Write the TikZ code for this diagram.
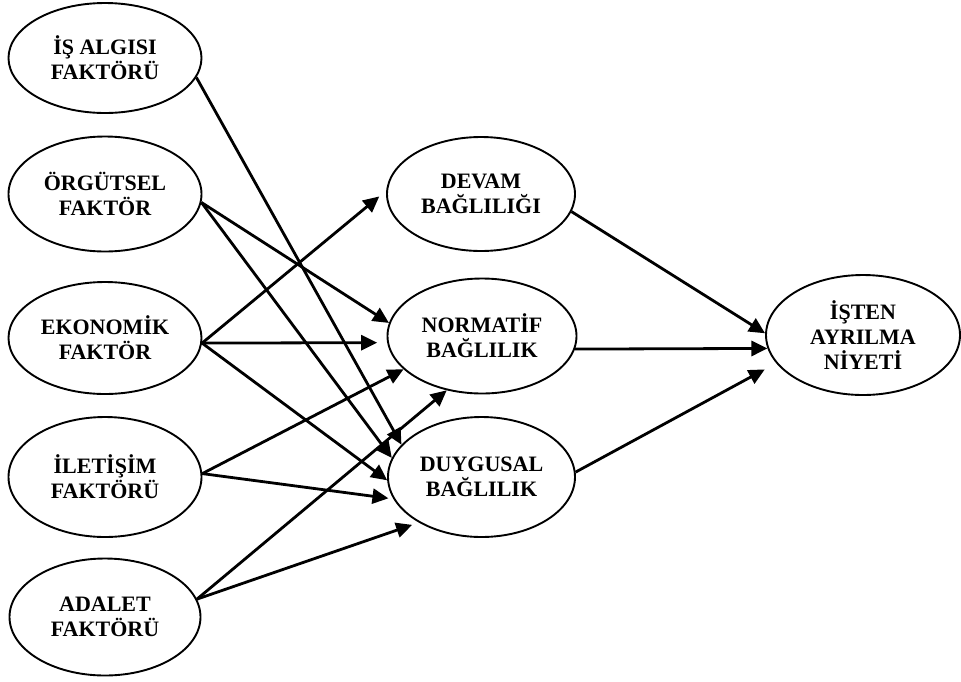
\documentclass[tikz,border=0pt]{standalone}
\usepackage{fontspec}
\setmainfont{Liberation Serif}
\usetikzlibrary{shapes.geometric,arrows.meta}
\begin{document}
\begin{tikzpicture}[x=1pt,y=-1pt,
  factor/.style={ellipse,draw,line width=1.9pt,inner sep=0pt,align=center,
    font=\fontsize{22}{25}\selectfont\bfseries},
  link/.style={line width=2.8pt,-{Triangle[length=16pt,width=15pt]}}]
\useasboundingbox (0,0) rectangle (961,681);

% source factors
\node[factor,minimum width=193pt,minimum height=110pt] (isalgi) at (105,58) {İŞ ALGISI\\FAKTÖRÜ};
\node[factor,minimum width=193pt,minimum height=115pt] (orgut) at (105,194) {ÖRGÜTSEL\\FAKTÖR};
\node[factor,minimum width=193pt,minimum height=112pt] (ekon) at (105,338) {EKONOMİK\\FAKTÖR};
\node[factor,minimum width=193pt,minimum height=120pt] (ilet) at (105,477) {İLETİŞİM\\FAKTÖRÜ};
\node[factor,minimum width=191pt,minimum height=117pt] (adalet) at (105,617) {ADALET\\FAKTÖRÜ};

% commitment types
\node[factor,minimum width=188pt,minimum height=114pt] (devam) at (481,194) {DEVAM\\BAĞLILIĞI};
\node[factor,minimum width=189pt,minimum height=115pt] (normatif) at (482,336) {NORMATİF\\BAĞLILIK};
\node[factor,minimum width=187pt,minimum height=120pt] (duygu) at (481.5,477) {DUYGUSAL\\BAĞLILIK};

% outcome
\node[factor,minimum width=194pt,minimum height=120pt] (isten) at (863,335) {İŞTEN\\AYRILMA\\NİYETİ};

% factor -> commitment links
\draw[link] (isalgi.-12) -- (duygu.158);
\draw[link] (orgut.-5) -- (normatif.172);
\draw[link] (orgut.-5) -- (duygu.168);
\draw[link,shorten >=9pt] (ekon.-3) -- (devam.178);
\draw[link,shorten >=10pt] (ekon.-3) -- (normatif.-176);
\draw[link] (ekon.-3) -- (duygu.182);
\draw[link] (ilet.2) -- (normatif.203);
\draw[link,shorten >=5pt] (ilet.2) -- (duygu.194);
\draw[link] (adalet.11.5) -- (normatif.237);
\draw[link,shorten >=7pt] (adalet.11.5) -- (duygu.216);

% commitment -> intention links
\draw[link] (devam.-11) -- (isten.179);
\draw[link] (normatif.-8) -- (isten.188);
\draw[link,shorten >=13pt] (duygu.3) -- (isten.198);
\end{tikzpicture}
\end{document}
